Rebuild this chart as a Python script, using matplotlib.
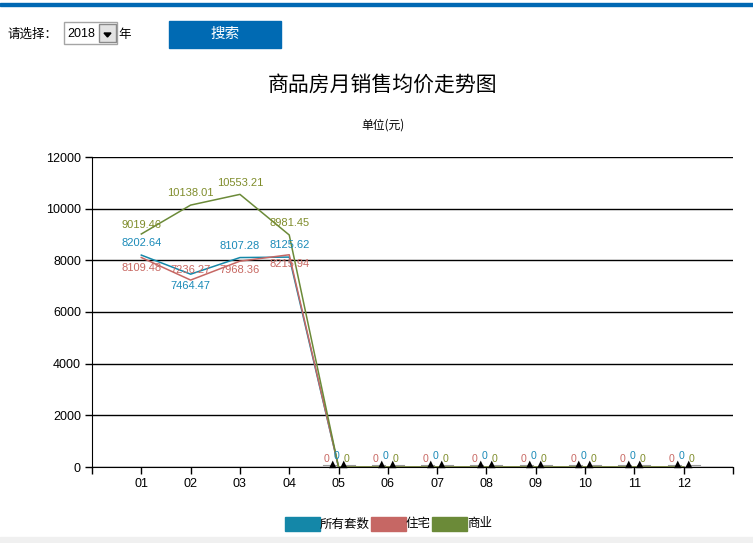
import matplotlib
matplotlib.use("Agg")
import matplotlib.pyplot as plt
from matplotlib.patches import Rectangle, Polygon

plt.rcParams['font.family'] = ['Noto Sans CJK SC', 'DejaVu Sans']

months = ["01", "02", "03", "04", "05", "06", "07", "08", "09", "10", "11", "12"]
all_units = [8202.64, 7464.47, 8107.28, 8125.62, 0, 0, 0, 0, 0, 0, 0, 0]
housing = [8109.48, 7236.27, 7968.36, 8215.94, 0, 0, 0, 0, 0, 0, 0, 0]
commercial = [9019.46, 10138.01, 10553.21, 8981.45, 0, 0, 0, 0, 0, 0, 0, 0]
series_names = ["所有套数", "住宅", "商业"]
series_colors = ["#1487a8", "#c66764", "#6b8a38"]
label_colors = ["#1a8ab8", "#c86862", "#7f8c2a"]
yticks = [0, 2000, 4000, 6000, 8000, 10000, 12000]

W, H = 753, 543
fig = plt.figure(figsize=(W / 100, H / 100), dpi=100)


def fx(px):
    return px / W


def fy(py):
    return 1 - py / H


# page header
fig.patches.append(Rectangle((0, fy(6)), 1, 3 / H, transform=fig.transFigure,
                             color="#0068b3", zorder=1))
fig.text(fx(8), fy(34), "请选择：", fontsize=9, va="center", ha="left")
fig.patches.append(Rectangle((fx(64), fy(44)), 53 / W, 22 / H, transform=fig.transFigure,
                             facecolor="white", edgecolor="#a5a5a5", lw=1))
fig.text(fx(67), fy(34), "2018", fontsize=9, va="center", ha="left", family="Liberation Sans")
fig.patches.append(Rectangle((fx(99), fy(42)), 17 / W, 18 / H, transform=fig.transFigure,
                             facecolor="#e3e3e3", edgecolor="#8a8a8a", lw=1))
fig.patches.append(Polygon([(fx(104), fy(33)), (fx(111), fy(33)), (fx(107.5), fy(37))],
                           closed=True, transform=fig.transFigure, color="black"))
fig.text(fx(118), fy(34), "年", fontsize=9, va="center", ha="left")
fig.patches.append(Rectangle((fx(169), fy(48)), 112 / W, 27 / H, transform=fig.transFigure,
                             color="#006ab3"))
fig.text(fx(225), fy(34), "搜索", fontsize=10.5, va="center", ha="center", color="white")

fig.text(fx(383), fy(85), "商品房月销售均价走势图", fontsize=15, va="center", ha="center")
fig.text(fx(383), fy(125), "单位(元)", fontsize=8.5, va="center", ha="center")

# bottom band
fig.patches.append(Rectangle((0, 0), 1, 6 / H, transform=fig.transFigure,
                             color="#f0f0f0"))

ax = fig.add_axes([fx(92), fy(467), (733 - 92) / W, (467 - 157) / H])
x = list(range(1, len(months) + 1))
data = [all_units, housing, commercial]

for vals, c in zip(data, series_colors):
    ax.plot(x, vals, color=c, lw=1.1, zorder=3)

# data labels (offsets in pixels: dx, dy)
label_offsets = {
    0: [(0, 12), (0, -12), (0, 12), (0, 12)],
    1: [(0, -10), (0, 10), (0, -9), (0, -9)],
    2: [(0, 9), (0, 12), (0, 11), (0, 12)],
}
zero_offsets = [(-2, 11), (-12, 8), (8, 8)]
for i, (vals, c) in enumerate(zip(data, label_colors)):
    for j, v in enumerate(vals):
        if v > 0:
            dx, dy = label_offsets[i][j]
        else:
            dx, dy = zero_offsets[i]
        txt = "%g" % v if v == 0 else "%.2f" % v
        ax.annotate(txt, (x[j], v), xytext=(dx * 0.72, dy * 0.72), textcoords="offset points",
                    ha="center", va="center", color=c, fontsize=8 if v > 0 else 7.6,
                    family="Liberation Sans", zorder=5, annotation_clip=False)
    if i == 0:
        for j, v in enumerate(vals):
            if v == 0:
                for ox0, ox1 in ((-16, -3), (3, 16)):
                    ax.annotate("", (x[j], v), xytext=(0, 0), textcoords="offset points",
                                annotation_clip=False)
                    ax.plot([x[j] + ox0 / 49.3, x[j] + ox1 / 49.3], [v + 2 * 12000 / 310] * 2,
                            color="#999999", lw=0.8, zorder=4, clip_on=False)
                for ox in (-6, 5):
                    ax.annotate("▲", (x[j], v), xytext=(ox * 0.72, 3 * 0.72),
                                textcoords="offset points", ha="center", va="center",
                                fontsize=7, color="black", family="DejaVu Sans",
                                annotation_clip=False, zorder=6)

ax.set_xlim(0, 13)
ax.set_ylim(0, 12000)
ax.set_xticks(range(0, 14))
ax.set_xticklabels([""] + months + [""], family="Liberation Sans", fontsize=9)
ax.set_yticks(yticks)
ax.set_yticklabels([str(t) for t in yticks], family="Liberation Sans", fontsize=9)
ax.tick_params(axis="both", length=5, width=1, color="black", pad=3)
ax.grid(axis="y", color="black", lw=1)
ax.set_axisbelow(True)
ax.spines["top"].set_visible(False)
ax.spines["right"].set_visible(False)
ax.spines["left"].set_color("black")
ax.spines["bottom"].set_color("black")
ax.spines["bottom"].set_zorder(2)

# legend
lx = [285, 371, 432]
for name, c, px in zip(series_names, series_colors, lx):
    fig.patches.append(Rectangle((fx(px), fy(531)), 35 / W, 14 / H, transform=fig.transFigure,
                                 color=c))
    fig.text(fx(px + 35), fy(524), name, fontsize=9, va="center", ha="left")

fig.savefig("out.png", dpi=100)
